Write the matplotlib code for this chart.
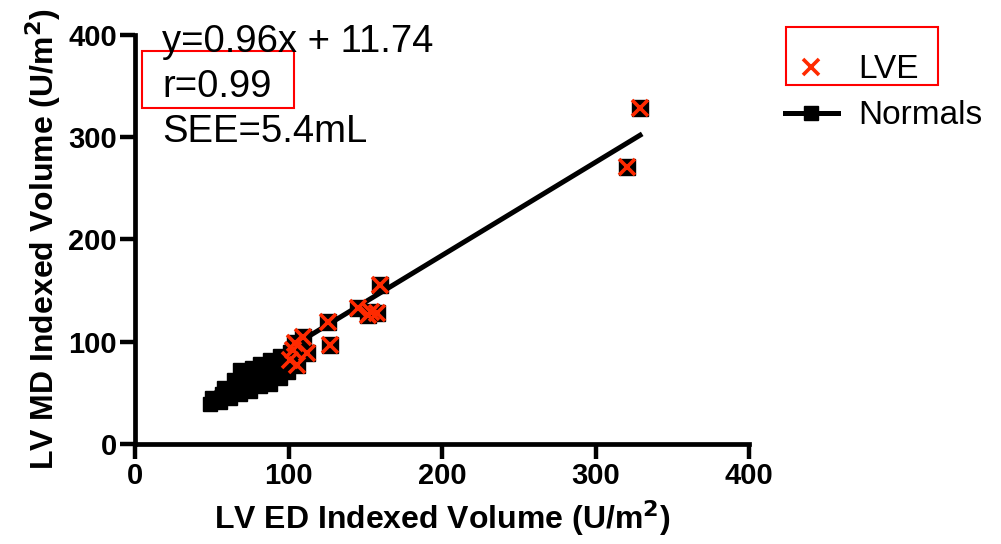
import matplotlib.pyplot as plt
from matplotlib.lines import Line2D
from matplotlib.patches import Rectangle

plt.rcParams['font.family'] = ['Liberation Sans', 'DejaVu Sans']

# LVE patients (ED volume, MD volume)
lve_x = [329, 320.5, 159.6, 145, 154, 157.6, 152, 125.7, 109.4, 127, 112, 104, 105.5, 101, 103]
lve_y = [328.6, 271, 155.5, 133, 129, 128, 126, 119.3, 104.6, 96.8, 89, 99, 77, 82, 92]

# normal subjects
norm_x = [48.9, 50.2, 55.4, 56.7, 58.0, 61.9, 63.2, 64.5, 68.4, 69.7, 68.4, 74.9, 74.9,
          76.2, 81.4, 82.7, 81.4, 87.9, 89.3, 87.9, 94.5, 95.8, 94.5, 99.7, 101.0, 101.0]
norm_y = [39.1, 45.0, 41.1, 48.9, 54.8, 45.0, 52.8, 62.6, 48.9, 58.7, 72.4, 51.8, 62.6,
          74.3, 56.7, 66.5, 78.2, 58.7, 70.4, 82.2, 64.5, 76.3, 86.1, 70.4, 82.2, 90.0]

# regression line end points
fit_x = [48, 329]
fit_y = [46, 302]

stats = ["y=0.96x + 11.74", "r=0.99", "SEE=5.4mL"]
ticks = [0, 100, 200, 300, 400]

fig = plt.figure(figsize=(10.01, 5.44), dpi=100)
ax = fig.add_axes([0.1349, 0.1838, 0.6134, 0.7519])

ax.plot(norm_x, norm_y, 's', color='black', markersize=10.5, zorder=2)
ax.plot(fit_x, fit_y, '-', color='black', linewidth=3.6, zorder=3)
ax.plot(lve_x, lve_y, 's', color='black', markersize=11, zorder=4)
ax.plot(lve_x, lve_y, 'x', color='#ff2a00', markersize=11, markeredgewidth=2.6, zorder=5)

ax.set_xlim(0, 400)
ax.set_ylim(0, 400)
ax.set_xticks(ticks)
ax.set_yticks(ticks)
for s in ['top', 'right']:
    ax.spines[s].set_visible(False)
for s in ['left', 'bottom']:
    ax.spines[s].set_linewidth(3.4)
ax.tick_params(width=3.2, length=11, labelsize=21, pad=2)
for lab in ax.get_xticklabels() + ax.get_yticklabels():
    lab.set_fontweight('bold')

ax.set_xlabel("LV ED Indexed Volume (U/m$^\\mathbf{2}$)", fontsize=23, fontweight='bold', labelpad=6)
ax.set_ylabel("LV MD Indexed Volume (U/m$^\\mathbf{2}$)", fontsize=23, fontweight='bold', labelpad=4)

for txt, yy in zip(stats, [0.9044, 0.8217, 0.739]):
    fig.text(0.1618, yy, txt, fontsize=27.5, va='baseline', ha='left')

handles = [Line2D([], [], linestyle='none', marker='x', color='#ff2a00', markersize=11, markeredgewidth=2.6),
           Line2D([], [], color='black', linewidth=3.6, marker='s', markersize=10)]
fig.legend(handles, ['LVE', 'Normals'], loc='upper left', bbox_to_anchor=(0.784, 0.900),
           frameon=False, fontsize=24, handlelength=1.6, handletextpad=0.6,
           labelspacing=0.45, borderpad=0, borderaxespad=0)

# red highlight boxes
fig.patches.append(Rectangle((0.1419, 0.8015), 0.1518, 0.1048, transform=fig.transFigure,
                             fill=False, edgecolor='red', linewidth=1.5))
fig.patches.append(Rectangle((0.7852, 0.8438), 0.1518, 0.1066, transform=fig.transFigure,
                             fill=False, edgecolor='red', linewidth=1.5))

fig.savefig('out.png', dpi=100)
